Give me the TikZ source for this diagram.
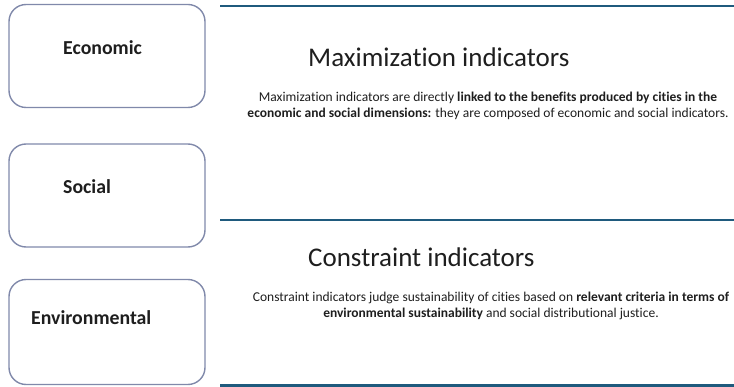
\documentclass[tikz,border=0pt]{standalone}
\usepackage{fontspec}
\setmainfont[Ligatures=NoCommon]{Carlito}
\usetikzlibrary{positioning}

\definecolor{boxgray}{RGB}{128,137,170}
\definecolor{ruleblue}{RGB}{31,90,125}
\definecolor{txt}{RGB}{30,30,30}

\begin{document}
\begin{tikzpicture}[x=1pt,y=-1pt,
		dimbox/.style={rectangle, rounded corners=17pt, draw=boxgray, line width=1.4pt, minimum width=196pt, minimum height=103pt, inner sep=0pt},
		dimlabel/.style={font=\fontsize{19.8}{23}\selectfont\bfseries, text=txt, inner sep=0pt, anchor=base west},
		heading/.style={font=\fontsize{27}{31}\selectfont, text=txt, inner sep=0pt, anchor=base west},
		para/.style={font=\fontsize{13.5}{16}\selectfont, text=txt, align=center, inner sep=0pt},
		sep/.style={draw=ruleblue, line width=2.6pt}]
		\useasboundingbox (0,0) rectangle (734,387);

		% boxes on the left
		\node (eco) [dimbox] at (107,56) {};
		\node (soc) [dimbox] at (107,195.5) {};
		\node (env) [dimbox, minimum height=105pt] at (107,332) {};
		\node (ecolabel) [dimlabel] at (63,54.5) {Economic};
		\node (soclabel) [dimlabel] at (63,193.5) {Social};
		\node (envlabel) [dimlabel] at (31,324.5) {Environmental};

		% separators
		\draw[sep] (220,6) -- (734,6);
		\draw[sep] (220,220) -- (734,220);
		\draw[sep] (220,385.5) -- (734,385.5);

		% maximization
		\node (maxhead) [heading] at (308,67) {Maximization indicators};
		\node (maxtext) [para] at (488,106) {Maximization indicators are directly \textbf{linked to the benefits produced by cities in the}\\\textbf{economic and social dimensions:} they are composed of economic and social indicators.};

		% constraint
		\node (conhead) [heading] at (308,267) {Constraint indicators};
		\node (context) [para] at (491,306) {Constraint indicators judge sustainability of cities based on \textbf{relevant criteria in terms of}\\\textbf{environmental sustainability} and social distributional justice.};
	\end{tikzpicture}
\end{document}
